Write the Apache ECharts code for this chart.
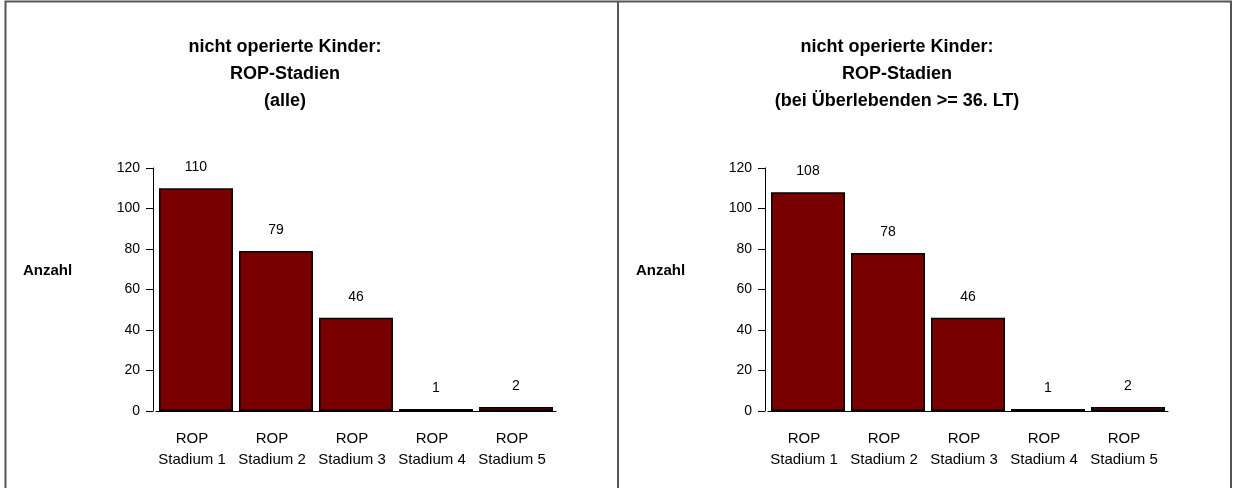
<!DOCTYPE html>
<html>
<head>
<meta charset="utf-8">
<script src="https://cdn.jsdelivr.net/npm/echarts@6/dist/echarts.min.js"></script>
<style>
  html, body { margin: 0; padding: 0; background: #fff; }
  #chart { width: 1234px; height: 488px; }
</style>
</head>
<body>
<div id="chart"></div>
<script>
var categories = ["ROP\nStadium 1", "ROP\nStadium 2", "ROP\nStadium 3", "ROP\nStadium 4", "ROP\nStadium 5"];
var alleValues = [110, 79, 46, 1, 2];
var ueberlebendeValues = [108, 78, 46, 1, 2];
var yTicks = [0, 20, 40, 60, 80, 100, 120];
var titleLeft = "nicht operierte Kinder:\nROP-Stadien\n(alle)";
var titleRight = "nicht operierte Kinder:\nROP-Stadien\n(bei Überlebenden >= 36. LT)";
var yName = "Anzahl";

var font = "'Liberation Sans', Arial, Helvetica, sans-serif";
var barColor = "#7a0000";

function xAxisFor(gridIndex) {
  return {
    type: "category",
    gridIndex: gridIndex,
    data: categories,
    axisLine: { lineStyle: { color: "#000", width: 1 } },
    axisTick: { length: 7, lineStyle: { color: "#000" } },
    axisLabel: {
      interval: 0,
      hideOverlap: false,
      color: "#000",
      fontFamily: font,
      fontSize: 15,
      lineHeight: 21,
      margin: 17,
      padding: [0, 8, 0, 0]
    }
  };
}

function yAxisFor(gridIndex) {
  return {
    type: "value",
    gridIndex: gridIndex,
    min: yTicks[0],
    max: yTicks[yTicks.length - 1],
    interval: 20,
    offset: 3,
    axisLine: { show: true, lineStyle: { color: "#000", width: 1 } },
    axisTick: { show: true, length: 7, lineStyle: { color: "#000" } },
    splitLine: { show: false },
    axisLabel: { color: "#000", fontFamily: font, fontSize: 14, margin: 13 }
  };
}

function seriesFor(idx, values) {
  return {
    type: "bar",
    xAxisIndex: idx,
    yAxisIndex: idx,
    data: values,
    barWidth: 74,
    itemStyle: { color: barColor, borderColor: "#000", borderWidth: 1.5 },
    label: {
      show: true,
      position: "top",
      distance: 14,
      color: "#000",
      fontFamily: font,
      fontSize: 14
    },
    silent: true
  };
}

var myChart = echarts.init(document.getElementById("chart"));
var option = {
  animation: false,
  backgroundColor: "#fff",
  title: [
    {
      text: titleLeft, left: 280, top: 29, textAlign: "center",
      textStyle: { fontFamily: font, fontSize: 18, fontWeight: "bold", color: "#000", lineHeight: 27 }
    },
    {
      text: titleRight, left: 892, top: 29, textAlign: "center",
      textStyle: { fontFamily: font, fontSize: 18, fontWeight: "bold", color: "#000", lineHeight: 27 }
    }
  ],
  grid: [
    { left: 156, top: 168, width: 400, height: 243 },
    { left: 768, top: 168, width: 400, height: 243 }
  ],
  xAxis: [xAxisFor(0), xAxisFor(1)],
  yAxis: [yAxisFor(0), yAxisFor(1)],
  series: [seriesFor(0, alleValues), seriesFor(1, ueberlebendeValues)],
  graphic: [
    {
      type: "rect", silent: true,
      shape: { x: 5.5, y: 1.5, width: 1225.5, height: 600 },
      style: { fill: null, stroke: "#555", lineWidth: 2 }
    },
    {
      type: "line", silent: true,
      shape: { x1: 618, y1: 1.5, x2: 618, y2: 488 },
      style: { stroke: "#555", lineWidth: 2 }
    },
    {
      type: "text", x: 23, y: 271,
      style: { text: yName, font: "bold 15px " + font, fill: "#000", verticalAlign: "middle" }
    },
    {
      type: "text", x: 636, y: 271,
      style: { text: yName, font: "bold 15px " + font, fill: "#000", verticalAlign: "middle" }
    }
  ]
};
myChart.setOption(option);
</script>
</body>
</html>
